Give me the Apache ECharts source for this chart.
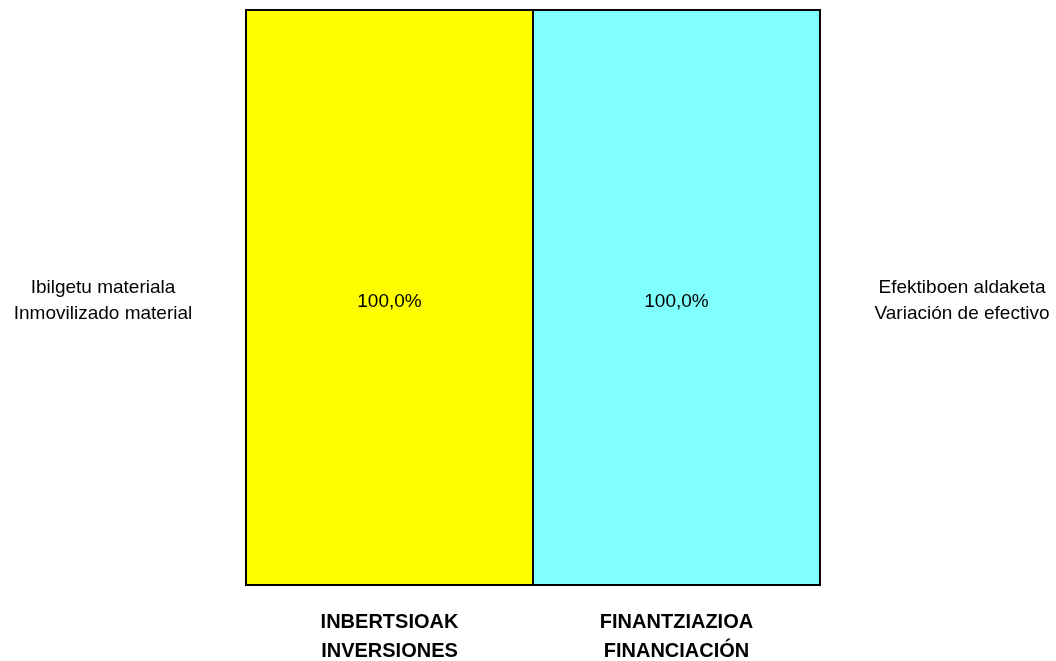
<!DOCTYPE html>
<html>
<head>
<meta charset="utf-8">
<script src="https://cdn.jsdelivr.net/npm/echarts@6/dist/echarts.min.js"></script>
<style>
  html, body { margin: 0; padding: 0; background: #fff; }
  #main { width: 1056px; height: 661px; }
</style>
</head>
<body>
<div id="main"></div>
<script>
// categories (bottom labels)
var categories = ['INBERTSIOAK\nINVERSIONES', 'FINANTZIAZIOA\nFINANCIACIÓN']
// series names (side labels)
var leftName = 'Ibilgetu materiala\nInmovilizado material'
var rightName = 'Efektiboen aldaketa\nVariación de efectivo'
// values, percent
var leftValues = [100.0, '-']
var rightValues = ['-', 100.0]

var font = '"Liberation Sans", Arial, sans-serif'

var myChart = echarts.init(document.getElementById('main'))

var barLabel = {
    show: true,
    position: 'inside',
    offset: [0, 4],
    color: '#000',
    fontFamily: font,
    fontSize: 19,
    formatter: function (p) {
        return p.value.toFixed(1).replace('.', ',') + '%'
    },
}

var option = {
    backgroundColor: '#fff',
    animation: false,
    grid: {
        left: 246,
        right: 236,
        top: 10,
        bottom: 76,
        outerBoundsMode: 'none',
        containLabel: false,
        show: true,
        z: 10,
        backgroundColor: 'transparent',
        borderColor: '#000',
        borderWidth: 2,
    },
    xAxis: {
        type: 'category',
        data: categories,
        z: 10,
        axisLine: { show: false },
        axisTick: { show: false },
        splitLine: {
            show: true,
            lineStyle: { color: '#000', width: 2 },
        },
        axisLabel: {
            margin: 23,
            color: '#000',
            fontFamily: font,
            fontSize: 20,
            fontWeight: 'bold',
            lineHeight: 29,
        },
    },
    yAxis: {
        type: 'value',
        min: 0,
        max: 100,
        show: false,
        splitLine: { show: false },
    },
    series: [
        {
            name: leftName,
            type: 'bar',
            stack: 'total',
            data: leftValues,
            barCategoryGap: 0,
            barWidth: '100%',
            itemStyle: { color: '#ffff00' },
            label: barLabel,
        },
        {
            name: rightName,
            type: 'bar',
            stack: 'total',
            data: rightValues,
            barCategoryGap: 0,
            barWidth: '100%',
            itemStyle: { color: '#80ffff' },
            label: barLabel,
        },
    ],
    graphic: [
        {
            type: 'text',
            x: 103,
            y: 275,
            style: {
                text: leftName,
                align: 'center',
                verticalAlign: 'top',
                fill: '#000',
                fontFamily: font,
                fontSize: 19,
                lineHeight: 26,
            },
        },
        {
            type: 'text',
            x: 962,
            y: 275,
            style: {
                text: rightName,
                align: 'center',
                verticalAlign: 'top',
                fill: '#000',
                fontFamily: font,
                fontSize: 19,
                lineHeight: 26,
            },
        },
    ],
}

myChart.setOption(option)
</script>
</body>
</html>
